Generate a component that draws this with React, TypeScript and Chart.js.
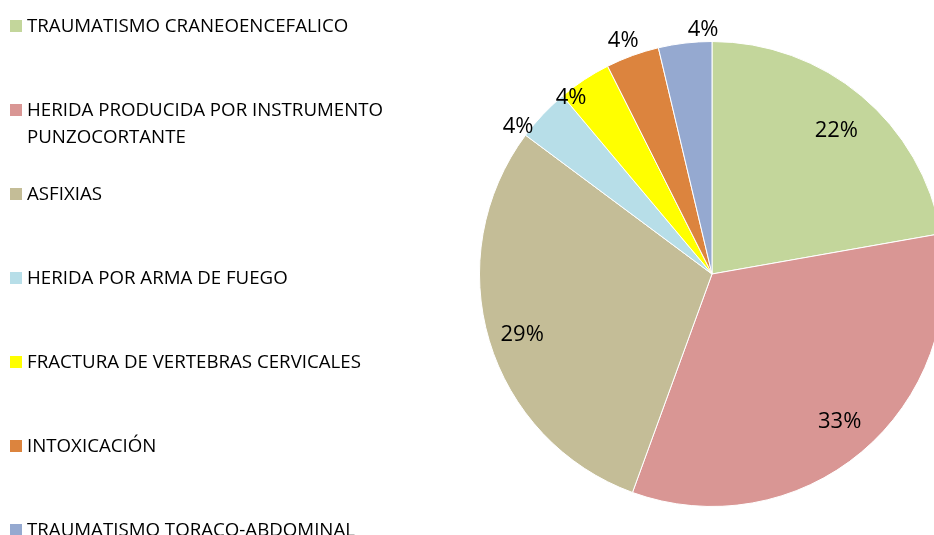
import React, { useEffect, useRef } from "react";
import { Chart, registerables } from "chart.js";

Chart.register(...registerables);

const categories = [
  "TRAUMATISMO CRANEOENCEFALICO",
  "HERIDA PRODUCIDA POR INSTRUMENTO PUNZOCORTANTE",
  "ASFIXIAS",
  "HERIDA POR ARMA DE FUEGO",
  "FRACTURA DE VERTEBRAS CERVICALES",
  "INTOXICACIÓN",
  "TRAUMATISMO TORACO-ABDOMINAL",
];
const counts = [6, 9, 8, 1, 1, 1, 1];
const percentLabels = ["22%", "33%", "29%", "4%", "4%", "4%", "4%"];
const colors = ["#C3D69B", "#D99694", "#C4BD97", "#B7DEE8", "#FFFF00", "#DC843E", "#95A9D0"];

// label placement (style): radial factor and angular shift in degrees
const labelRadius = [0.82, 0.842, 0.852, 1.046, 0.97, 1.073, 1.052];
const labelShift = [1.1, -1.1, -0.9, -5.8, -5.0, -0.6, 4.8];

const FONT = "'Open Sans', 'Noto Sans', sans-serif";

const labelPlugin = {
  id: "pctLabels",
  afterDatasetsDraw(chart: any) {
    const ctx = chart.ctx;
    const meta = chart.getDatasetMeta(0);
    ctx.save();
    ctx.font = `22px ${FONT}`;
    ctx.fillStyle = "#000";
    ctx.textAlign = "center";
    ctx.textBaseline = "alphabetic";
    meta.data.forEach((arc: any, i: number) => {
      const p = arc.getProps(["x", "y", "startAngle", "endAngle", "outerRadius"], true);
      const mid = (p.startAngle + p.endAngle) / 2 + (labelShift[i] * Math.PI) / 180;
      const r = p.outerRadius * labelRadius[i];
      const x = p.x + Math.cos(mid) * r;
      const y = p.y + Math.sin(mid) * r;
      ctx.fillText(percentLabels[i], x - 1, y - 1 + 22 * 0.357);
    });
    ctx.restore();
  },
};

export default function App() {
  const ref = useRef<HTMLCanvasElement | null>(null);
  useEffect(() => {
    if (!ref.current) return;
    const chart = new Chart(ref.current, {
      type: "pie",
      data: {
        labels: categories,
        datasets: [
          {
            data: counts,
            backgroundColor: colors,
            borderColor: "#ffffff",
            borderWidth: 1,
          },
        ],
      },
      options: {
        animation: false,
        responsive: false,
        maintainAspectRatio: false,
        layout: { padding: { left: 479, top: 41, bottom: 28, right: 15 } },
        plugins: {
          legend: { display: false },
          tooltip: { enabled: false },
        },
      },
      plugins: [labelPlugin],
    });
    return () => chart.destroy();
  }, []);

  return (
    <div
      style={{
        position: "absolute",
        left: 0,
        top: 0,
        width: 934,
        height: 535,
        overflow: "hidden",
        background: "#fff",
      }}
    >
      <canvas ref={ref} width={960} height={535} style={{ position: "absolute", left: 0, top: 0 }} />
      {categories.map((c, i) => (
        <div
          key={c}
          style={{
            position: "absolute",
            left: 27,
            top: 11.3 + 84 * i,
            width: 366,
            font: `18.7px ${FONT}`,
            lineHeight: "27px",
            color: "#000",
          }}
        >
          <span
            style={{
              position: "absolute",
              left: -17,
              top: 8.5,
              width: 12,
              height: 12,
              background: colors[i],
            }}
          />
          {c}
        </div>
      ))}
    </div>
  );
}
